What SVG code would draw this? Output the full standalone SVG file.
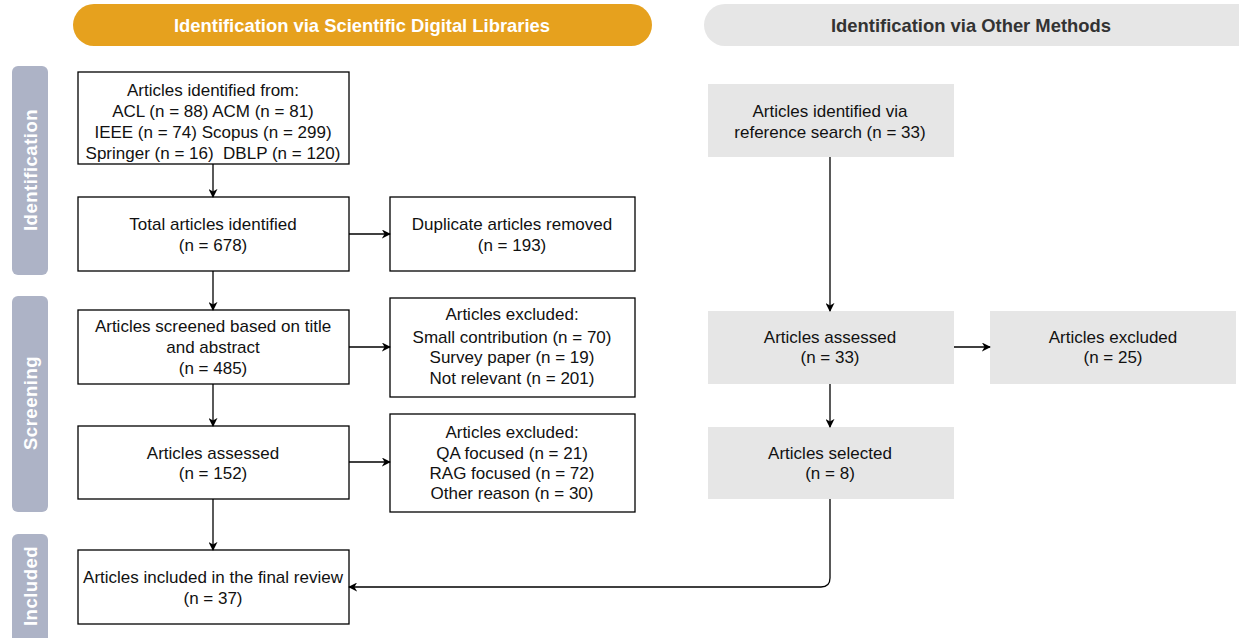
<svg xmlns="http://www.w3.org/2000/svg" width="1239" height="638" viewBox="0 0 1239 638">
  <style>
    text { font-family: "Liberation Sans", Arial, sans-serif; font-size: 17px; fill: #111; text-anchor: middle; }
    .hdr { font-weight: bold; font-size: 18.4px; }
    .hdr-a { fill: #ffffff; }
    .hdr-b { fill: #333333; }
    .phase { fill: #ffffff; font-weight: bold; font-size: 18.5px; letter-spacing: 0.5px; }
    .phase-bar { fill: #adb3c6; }
    .box { fill: #ffffff; stroke: #000000; stroke-width: 1.3; }
    .gbox { fill: #e6e6e6; }
    .edge { fill: none; stroke: #000000; stroke-width: 1.3; marker-end: url(#arrow); }
  </style>
  <defs>
    <marker id="arrow" viewBox="0 0 10 10" refX="9" refY="5" markerWidth="9" markerHeight="9" markerUnits="userSpaceOnUse" orient="auto">
      <path d="M0,0 L10,5 L0,10 L3,5 Z" fill="#000000"/>
    </marker>
  </defs>

  <!-- column headers -->
  <g id="header-libraries">
    <rect x="73" y="4" width="579" height="42" rx="21" fill="#e6a11e"/>
    <text class="hdr hdr-a" x="362" y="32">Identification via Scientific Digital Libraries</text>
  </g>
  <g id="header-other">
    <rect x="704" y="4" width="560" height="42" rx="21" fill="#e6e6e6"/>
    <text class="hdr hdr-b" x="971" y="32">Identification via Other Methods</text>
  </g>

  <!-- phase bars -->
  <g id="phase-identification">
    <rect class="phase-bar" x="12" y="66" width="36" height="209" rx="6"/>
    <text class="phase" transform="translate(37,170) rotate(-90)">Identification</text>
  </g>
  <g id="phase-screening">
    <rect class="phase-bar" x="12" y="296" width="36" height="216" rx="6"/>
    <text class="phase" transform="translate(37,403) rotate(-90)">Screening</text>
  </g>
  <g id="phase-included">
    <rect class="phase-bar" x="12" y="534" width="36" height="120" rx="6"/>
    <text class="phase" transform="translate(37,586) rotate(-90)">Included</text>
  </g>

  <!-- left column -->
  <g id="identified-libraries">
    <rect class="box" x="78" y="72" width="271" height="92"/>
    <text x="213" y="96">Articles identified from:</text>
    <text x="213" y="117">ACL (n = 88) ACM (n = 81)</text>
    <text x="213" y="138">IEEE (n = 74) Scopus (n = 299)</text>
    <text x="213" y="159" xml:space="preserve">Springer (n = 16)  DBLP (n = 120)</text>
  </g>
  <g id="total-identified">
    <rect class="box" x="78" y="197" width="271" height="74"/>
    <text x="213" y="230">Total articles identified</text>
    <text x="213" y="251">(n = 678)</text>
  </g>
  <g id="duplicates-removed">
    <rect class="box" x="390" y="197" width="245" height="74"/>
    <text x="512" y="230">Duplicate articles removed</text>
    <text x="512" y="251">(n = 193)</text>
  </g>
  <g id="screened">
    <rect class="box" x="78" y="310" width="271" height="74"/>
    <text x="213" y="332">Articles screened based on title</text>
    <text x="213" y="353">and abstract</text>
    <text x="213" y="374">(n = 485)</text>
  </g>
  <g id="excluded-screening">
    <rect class="box" x="390" y="298" width="245" height="99"/>
    <text x="512" y="320">Articles excluded:</text>
    <text x="512" y="343">Small contribution (n = 70)</text>
    <text x="512" y="363">Survey paper (n = 19)</text>
    <text x="512" y="384">Not relevant (n = 201)</text>
  </g>
  <g id="assessed-libraries">
    <rect class="box" x="78" y="426" width="271" height="73"/>
    <text x="213" y="459">Articles assessed</text>
    <text x="213" y="479">(n = 152)</text>
  </g>
  <g id="excluded-assessment">
    <rect class="box" x="390" y="414" width="245" height="98"/>
    <text x="512" y="438">Articles excluded:</text>
    <text x="512" y="459">QA focused (n = 21)</text>
    <text x="512" y="479">RAG focused (n = 72)</text>
    <text x="512" y="499">Other reason (n = 30)</text>
  </g>
  <g id="included-final">
    <rect class="box" x="78" y="550" width="271" height="74"/>
    <text x="213" y="583">Articles included in the final review</text>
    <text x="213" y="604">(n = 37)</text>
  </g>

  <!-- right column -->
  <g id="identified-reference">
    <rect class="gbox" x="708" y="84" width="246" height="73"/>
    <text x="830" y="117">Articles identified via</text>
    <text x="830" y="138">reference search (n = 33)</text>
  </g>
  <g id="assessed-other">
    <rect class="gbox" x="708" y="311" width="246" height="73"/>
    <text x="830" y="343">Articles assessed</text>
    <text x="830" y="363">(n = 33)</text>
  </g>
  <g id="excluded-other">
    <rect class="gbox" x="990" y="311" width="246" height="73"/>
    <text x="1113" y="343">Articles excluded</text>
    <text x="1113" y="363">(n = 25)</text>
  </g>
  <g id="selected-other">
    <rect class="gbox" x="708" y="427" width="246" height="72"/>
    <text x="830" y="459">Articles selected</text>
    <text x="830" y="479">(n = 8)</text>
  </g>

  <!-- connectors -->
  <g id="connectors">
    <path class="edge" d="M213,164 V197"/>
    <path class="edge" d="M349,234 H390"/>
    <path class="edge" d="M213,271 V310"/>
    <path class="edge" d="M349,347 H390"/>
    <path class="edge" d="M213,384 V426"/>
    <path class="edge" d="M349,462 H390"/>
    <path class="edge" d="M213,499 V550"/>
    <path class="edge" d="M830,157 V311"/>
    <path class="edge" d="M954,347 H990"/>
    <path class="edge" d="M830,384 V427"/>
    <path class="edge" d="M830,499 V578 Q830,587 821,587 H349"/>
  </g>
</svg>
